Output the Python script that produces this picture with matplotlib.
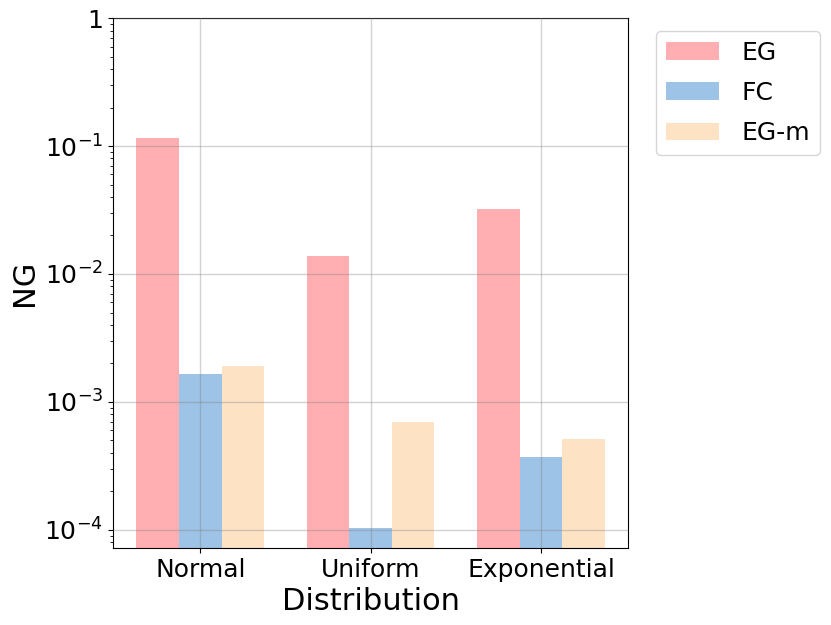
import numpy as np
import matplotlib.pyplot as plt
from matplotlib.ticker import LogLocator, NullFormatter

distributions = ['Normal', 'Uniform', 'Exponential']
methods = ['EG', 'FC', 'EG-m']
eg = [0.1155, 0.0138, 0.0322]
fc = [1.65e-3, 1.04e-4, 3.72e-4]
egm = [1.91e-3, 6.98e-4, 5.14e-4]
colors = ['#ffaeb1', '#9dc3e6', '#fde2c4']

fig, ax = plt.subplots(figsize=(8.31, 6.25), dpi=100)
x = np.arange(len(distributions))
w = 0.25
for i, (vals, name) in enumerate(zip([eg, fc, egm], methods)):
    ax.bar(x + (i - 1) * w, vals, w, color=colors[i], label=name, zorder=1)

ax.set_yscale('log')
ax.set_ylim(7.2e-5, 1)
ax.set_yticks([1e-4, 1e-3, 1e-2, 1e-1, 1])
ax.set_yticklabels(['$10^{-4}$', '$10^{-3}$', '$10^{-2}$', '$10^{-1}$', '1'])
ax.yaxis.set_minor_locator(LogLocator(base=10, subs=np.arange(2, 10)))
ax.yaxis.set_minor_formatter(NullFormatter())
ax.set_xticks(x)
ax.set_xticklabels(distributions)
ax.tick_params(labelsize=18)
ax.grid(True, which='major', color='gray', alpha=0.35, linewidth=1, zorder=3)
ax.set_axisbelow(False)
ax.set_xlabel('Distribution', fontsize=22)
ax.set_ylabel('NG', fontsize=22)
ax.legend(loc='upper left', bbox_to_anchor=(1.03, 1.0), fontsize=18,
          handlelength=2.1, handletextpad=0.9, labelspacing=0.65)
fig.subplots_adjust(left=0.136, right=0.756, top=0.971, bottom=0.123)
fig.savefig('out.png')
